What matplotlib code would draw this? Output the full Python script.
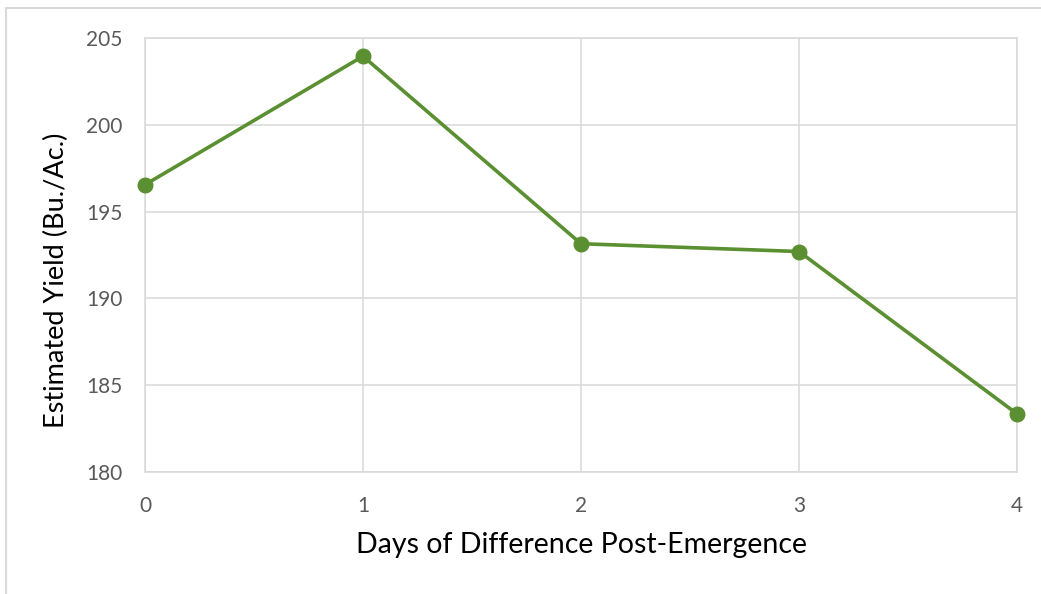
import matplotlib.pyplot as plt
from matplotlib.patches import Rectangle

days = [0, 1, 2, 3, 4]
yield_est = [196.55, 203.95, 193.15, 192.7, 183.35]
x_ticks = [0, 1, 2, 3, 4]
y_ticks = [180, 185, 190, 195, 200, 205]

plt.rcParams['font.family'] = ['Lato', 'DejaVu Sans']

fig = plt.figure(figsize=(10.41, 5.94), dpi=100)
ax = fig.add_axes([145/1041, 1 - 472/594, (1017-145)/1041, (472-38)/594])

# outer chart border like the Excel chart area
fig.patches.append(Rectangle((5.5/1041, -0.1), 1.2, 1 - 7.5/594 + 0.1,
                             transform=fig.transFigure, fill=False,
                             edgecolor='#d9d9d9', linewidth=1.5))

ax.plot(days, yield_est, '-o', color='#5B9032', linewidth=2.6,
        markersize=10.5, clip_on=False, zorder=3)

ax.set_xlim(0, 4)
ax.set_ylim(180, 205)
ax.set_xticks(x_ticks)
ax.set_yticks(y_ticks)
ax.grid(True, color='#d9d9d9', linewidth=1.1)
for s in ax.spines.values():
    s.set_color('#d9d9d9')
    s.set_linewidth(1.1)
ax.tick_params(length=0, labelsize=15, labelcolor='#595959')
ax.tick_params(axis='x', pad=17)
ax.tick_params(axis='y', pad=16)

ax.set_xlabel('Days of Difference Post-Emergence', fontsize=20.5, labelpad=12)
ax.set_ylabel('Estimated Yield (Bu./Ac.)', fontsize=19.5)
ax.yaxis.set_label_coords(-0.087, 0.442)

fig.savefig('out.png', dpi=100)
